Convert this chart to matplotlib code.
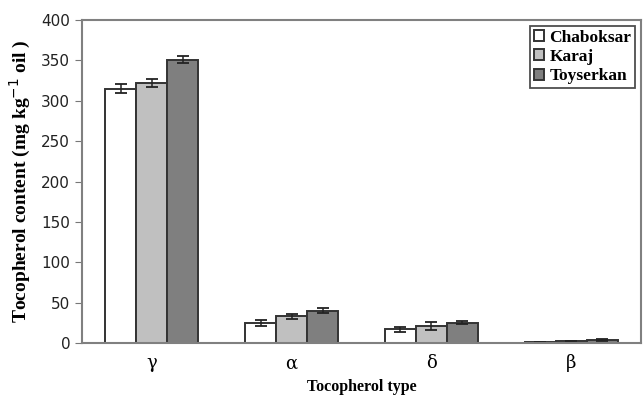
from matplotlib import pyplot as plt
import numpy as np

types = ['γ', 'α', 'δ', 'β']
sites = ['Chaboksar', 'Karaj', 'Toyserkan']
chaboksar = np.array([315, 25, 17, 1])
karaj = np.array([322, 33, 21, 2])
toyserkan = np.array([351, 40, 25, 4])
err_chaboksar = np.array([6, 4, 3, 0.5])
err_karaj = np.array([5, 3, 5, 0.5])
err_toyserkan = np.array([4, 3, 2, 1])

colors = ['#ffffff', '#c0c0c0', '#7f7f7f']
fig = plt.figure(figsize=(6.43, 4.0), dpi=100)
ax = fig.add_axes([82/643, 57/400, 559/643, 323/400])

x = np.arange(len(types))
w = 0.222
series = [chaboksar, karaj, toyserkan]
errs = [err_chaboksar, err_karaj, err_toyserkan]
for i, (vals, e, c, name) in enumerate(zip(series, errs, colors, sites)):
    ax.bar(x + (i - 1) * w, vals, w, color=c, edgecolor='#333333', linewidth=1.4,
           yerr=e, capsize=4.5, error_kw=dict(ecolor='#222222', elinewidth=1.1,
                                              capthick=1.3),
           label=name)

ax.set_xlim(-0.5, 3.5)
ax.set_ylim(0, 400)
ax.set_yticks(range(0, 401, 50))
ax.set_xticks(x)
ax.set_xticklabels(types, fontsize=13, family='DejaVu Serif')
ax.tick_params(axis='x', length=0, pad=8)
ax.tick_params(axis='y', direction='out', length=5, labelsize=11,
               color='#777777', labelcolor='#222222')
for s in ax.spines.values():
    s.set_color('#808080')
    s.set_linewidth(1.5)

ax.set_ylabel('Tocopherol content (mg kg$^{-1}$ oil )', fontsize=14,
              fontweight='bold', family='Liberation Serif', labelpad=6)
ax.set_xlabel('Tocopherol type', fontsize=11.5, fontweight='bold',
              family='Liberation Serif', labelpad=5)

leg = ax.legend(loc='upper right', prop={'family': 'Liberation Serif', 'size': 12.5,
                                         'weight': 'bold'},
                handlelength=0.6, handleheight=0.6, handletextpad=0.3,
                borderpad=0.2, labelspacing=0.2, fancybox=False,
                borderaxespad=0.35)
leg.get_frame().set_edgecolor('#222222')
leg.get_frame().set_linewidth(1.3)

plt.savefig('out.png')
